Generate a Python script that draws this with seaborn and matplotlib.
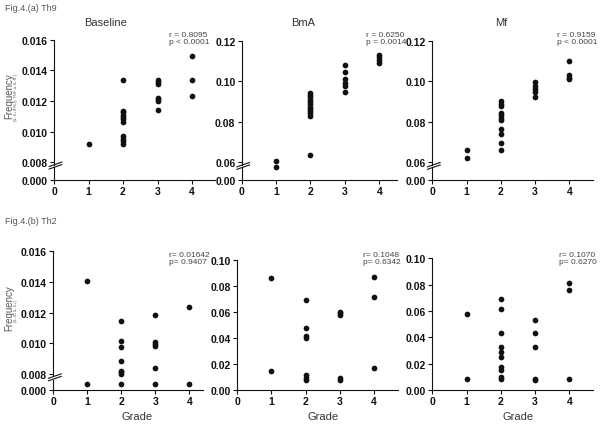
import pandas as pd
import matplotlib
matplotlib.use("Agg")
import matplotlib.pyplot as plt
import seaborn as sns
from matplotlib.lines import Line2D

sns.set_style("ticks")
plt.rcParams['font.family'] = ['Liberation Sans Narrow', 'Liberation Sans', 'DejaVu Sans']

W, H = 603, 427

# Th9 panels (a)
th9_base_grade = [1, 2, 2, 2, 2, 2, 2, 2, 2, 2, 2, 2, 3, 3, 3, 3, 3, 3, 3, 4, 4, 4]
th9_base_freq = [0.0092, 0.01336, 0.01137, 0.01126, 0.0111, 0.01097, 0.01081, 0.01063,
                 0.00969, 0.00951, 0.00936, 0.00917, 0.01336, 0.01327, 0.01312, 0.0122,
                 0.0121, 0.0120, 0.0114, 0.01495, 0.01336, 0.01235]

th9_bma_grade = [1, 1, 2, 2, 2, 2, 2, 2, 2, 2, 2, 2, 2, 2, 3, 3, 3, 3, 3, 3, 4, 4, 4, 4]
th9_bma_freq = [0.0608, 0.0578, 0.0942, 0.0930, 0.0920, 0.0907, 0.0896, 0.0887, 0.0872,
                0.0863, 0.0852, 0.0841, 0.0828, 0.0636, 0.1081, 0.1045, 0.1010, 0.0991,
                0.0975, 0.0947, 0.1131, 0.1118, 0.1104, 0.1088]

th9_mf_grade = [1, 1, 2, 2, 2, 2, 2, 2, 2, 2, 2, 2, 2, 3, 3, 3, 3, 3, 4, 4, 4, 4]
th9_mf_freq = [0.0659, 0.0622, 0.0901, 0.0890, 0.0880, 0.0843, 0.0832, 0.0819, 0.0808,
               0.0766, 0.0739, 0.0693, 0.0659, 0.0994, 0.0975, 0.0962, 0.0946, 0.0920,
               0.1101, 0.1030, 0.1018, 0.1010]

# Th2 panels (b)
th2_base_grade = [1, 1, 2, 2, 2, 2, 2, 2, 2, 2, 3, 3, 3, 3, 3, 3, 4, 4]
th2_base_freq = [0.01405, 0.0006, 0.01145, 0.01014, 0.00973, 0.00886, 0.00822, 0.00811,
                 0.0080, 0.0006, 0.01184, 0.01007, 0.00995, 0.0098, 0.00838, 0.0006,
                 0.0124, 0.0006]

th2_bma_grade = [1, 1, 2, 2, 2, 2, 2, 2, 2, 3, 3, 3, 3, 3, 4, 4, 4]
th2_bma_freq = [0.0861, 0.0150, 0.0694, 0.0479, 0.0419, 0.0400, 0.0112, 0.0094, 0.0074,
                0.0602, 0.0589, 0.0577, 0.0090, 0.0074, 0.0868, 0.0714, 0.0171]

th2_mf_grade = [1, 1, 2, 2, 2, 2, 2, 2, 2, 2, 2, 2, 3, 3, 3, 3, 3, 4, 4, 4]
th2_mf_freq = [0.0574, 0.0081, 0.0688, 0.0618, 0.0434, 0.0326, 0.0292, 0.0247, 0.0174,
               0.0155, 0.0100, 0.0081, 0.0532, 0.0434, 0.0326, 0.0087, 0.0076, 0.0810,
               0.0756, 0.0081]

grade_ticks = [0, 1, 2, 3, 4]
titles = ["Baseline", "BmA", "Mf"]
stats_th9 = ["r = 0.8095\np < 0.0001", "r = 0.6250\np = 0.0014", "r = 0.9159\np < 0.0001"]
stats_th2 = ["r= 0.01642\np= 0.9407", "r= 0.1048\np= 0.6342", "r= 0.1070\np= 0.6270"]

fig = plt.figure(figsize=(W / 100, H / 100), dpi=100)


def px_axes(x0, x1, ytop, ybot):
    ax = fig.add_axes([x0 / W, 1 - ybot / H, (x1 - x0) / W, (ybot - ytop) / H])
    ax.patch.set_visible(False)
    return ax


def style(ax):
    for s in ["top", "right"]:
        ax.spines[s].set_visible(False)
    for s in ["left", "bottom"]:
        ax.spines[s].set_linewidth(0.8)
        ax.spines[s].set_color("#111111")
    ax.tick_params(direction="out", length=3, width=0.8, pad=1.5, labelsize=7.5,
                   colors="#111111")
    ax.set_xlabel("")
    ax.set_ylabel("")


def dots(ax, d):
    sns.scatterplot(data=d, x="grade", y="freq", ax=ax, color="#111111", s=17,
                    linewidth=0, clip_on=False, legend=False, zorder=3)


def bold_labels(ax):
    plt.setp(ax.get_xticklabels(), fontweight="bold")
    plt.setp(ax.get_yticklabels(), fontweight="bold")


def break_marks(x0, gap):
    for dy in (0.0, 2.5):
        fig.add_artist(Line2D([(x0 - 5) / W, (x0 + 8) / W],
                              [1 - (gap + 0.6 + dy) / H, 1 - (gap - 3.9 + dy) / H],
                              color="#111111", lw=0.8))


def broken_panel(grade, freq, x0, x1, spacing, ytop, ybot_up, ytop_lo, ybot,
                 ylim_up, ticks_up, fmt, lo_label):
    d = pd.DataFrame({"grade": grade, "freq": freq})
    xmax = (x1 - x0) / spacing
    lo = px_axes(x0, x1, ytop_lo, ybot)
    up = px_axes(x0, x1, ytop, ybot_up)
    dots(up, d[d.freq >= ylim_up[0] - 0.002])
    dots(lo, d[d.freq < ylim_up[0] - 0.002])
    up.set_xlim(0, xmax)
    lo.set_xlim(0, xmax)
    up.set_ylim(*ylim_up)
    lo.set_ylim(0, 0.001)
    style(up)
    style(lo)
    up.spines["bottom"].set_visible(False)
    up.set_xticks([])
    up.set_yticks(ticks_up)
    up.set_yticklabels([fmt.format(v) for v in ticks_up])
    lo.set_yticks([0])
    lo.set_yticklabels([lo_label])
    lo.set_xticks(grade_ticks)
    lo.set_xticklabels([str(g) for g in grade_ticks])
    bold_labels(up)
    bold_labels(lo)
    break_marks(x0, (ybot_up + ytop_lo) / 2)


def plain_panel(grade, freq, x0, x1, spacing, ytop, ybot):
    d = pd.DataFrame({"grade": grade, "freq": freq})
    ax = px_axes(x0, x1, ytop, ybot)
    dots(ax, d)
    ax.set_xlim(0, (x1 - x0) / spacing)
    ax.set_ylim(0, 0.10)
    style(ax)
    yt = [0.0, 0.02, 0.04, 0.06, 0.08, 0.10]
    ax.set_yticks(yt)
    ax.set_yticklabels(["{:.2f}".format(v) for v in yt])
    ax.set_xticks(grade_ticks)
    ax.set_xticklabels([str(g) for g in grade_ticks])
    bold_labels(ax)


# top row: Th9
broken_panel(th9_base_grade, th9_base_freq, 54, 215, 34.5, 40.7, 165.6, 168.3, 180.7,
             (0.00785, 0.016), [0.008, 0.010, 0.012, 0.014, 0.016], "{:.3f}", "0.000")
broken_panel(th9_bma_grade, th9_bma_freq, 241.7, 396.7, 34.4, 41.7, 166.3, 168.3, 180.7,
             (0.0585, 0.12), [0.06, 0.08, 0.10, 0.12], "{:.2f}", "0.00")
broken_panel(th9_mf_grade, th9_mf_freq, 432.3, 593.3, 34.25, 41.7, 166.3, 168.3, 180.7,
             (0.0585, 0.12), [0.06, 0.08, 0.10, 0.12], "{:.2f}", "0.00")

# bottom row: Th2
broken_panel(th2_base_grade, th2_base_freq, 53.3, 203, 34.0, 252.3, 377, 380.5, 391,
             (0.00787, 0.016), [0.008, 0.010, 0.012, 0.014, 0.016], "{:.3f}", "0.000")
plain_panel(th2_bma_grade, th2_bma_freq, 237.3, 398.3, 34.1, 261, 391)
plain_panel(th2_mf_grade, th2_mf_freq, 432.3, 593.3, 34.25, 259.3, 391)


def ftext(x, y, s, **kw):
    fig.text(x / W, 1 - y / H, s, **kw)


ftext(5, 8.3, "Fig.4.(a) Th9", fontsize=6.5, color="#555555", va="center",
      family=["Liberation Sans", "DejaVu Sans"])
ftext(5, 221.7, "Fig.4.(b) Th2", fontsize=6.5, color="#555555", va="center",
      family=["Liberation Sans", "DejaVu Sans"])

for t, xc in zip(titles, [106, 303, 501]):
    ftext(xc, 23.3, t, fontsize=8, color="#333333", ha="center", va="center")

for s, xl in zip(stats_th9, [169.3, 365.7, 557.3]):
    ftext(xl, 38.8, s, fontsize=6, color="#444444", va="center", linespacing=1.05,
          family=["Liberation Sans", "DejaVu Sans"])
for s, xl in zip(stats_th2, [169.3, 363, 559.3]):
    ftext(xl, 258.8, s, fontsize=6, color="#444444", va="center", linespacing=1.05,
          family=["Liberation Sans", "DejaVu Sans"])

ftext(9.7, 96, "Frequency", fontsize=7, color="#555555", rotation=90, ha="center", va="center")
ftext(16, 97, "(IL-9+IFN-γ-TNF-α-IL-4-)", fontsize=3.2, color="#666666", rotation=90,
      ha="center", va="center")
ftext(9.7, 308, "Frequency", fontsize=7, color="#555555", rotation=90, ha="center", va="center")
ftext(16, 310.7, "(IL-4+IL-5+)", fontsize=3.2, color="#666666", rotation=90,
      ha="center", va="center")

for xc in [136.7, 323, 518]:
    ftext(xc, 416.7, "Grade", fontsize=8, color="#333333", ha="center", va="center")

fig.savefig("out.png", dpi=100)
